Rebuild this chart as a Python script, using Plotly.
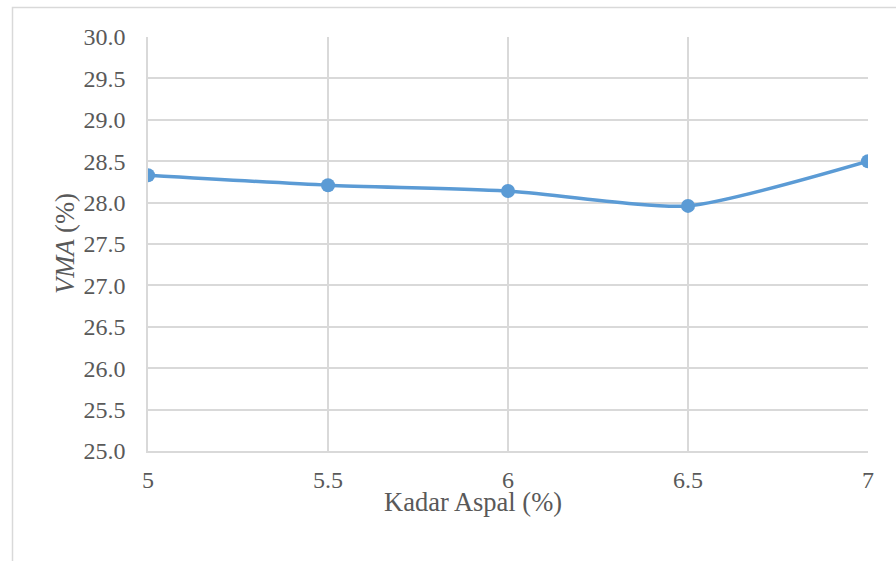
import plotly.graph_objects as go

# Asphalt content (%) and corresponding VMA (%)
kadar_aspal = [5, 5.5, 6, 6.5, 7]
vma = [28.33, 28.21, 28.14, 27.96, 28.50]

x_ticks = [5, 5.5, 6, 6.5, 7]
x_tick_text = ["5", "5.5", "6", "6.5", "7"]
y_ticks = [25.0, 25.5, 26.0, 26.5, 27.0, 27.5, 28.0, 28.5, 29.0, 29.5, 30.0]

W, H = 896, 561
L, R, T, B = 148, 868, 37, 451  # plot area in pixels

FONT = "Liberation Serif"
TXT = "#595959"
GRID = "#d9d9d9"
FS = 24
FS_TITLE = 26.5

fig = go.Figure()
fig.add_trace(go.Scatter(
    x=kadar_aspal, y=vma,
    mode="lines+markers",
    line=dict(color="#5b9bd5", width=3.5, shape="spline", smoothing=0.6),
    marker=dict(color="#5b9bd5", size=14),
    showlegend=False,
))

def px_to_paper_x(px):
    return (px - L) / (R - L)

def px_to_paper_y(py):
    return (B - py) / (B - T)

fig.update_layout(
    width=W, height=H,
    margin=dict(l=L, r=W - R, t=T, b=H - B),
    paper_bgcolor="white", plot_bgcolor="white",
    font=dict(family=FONT, size=FS, color=TXT),
    xaxis=dict(
        range=[5, 7], tickvals=x_ticks, ticktext=x_tick_text,
        showgrid=True, gridcolor=GRID, gridwidth=1.5,
        showline=True, linecolor=GRID, linewidth=1.5,
        zeroline=False, ticks="", ticklabelstandoff=6,
        tickfont=dict(family=FONT, size=FS, color=TXT),
    ),
    yaxis=dict(
        range=[25, 30], tickvals=y_ticks, tickformat=".1f",
        showgrid=True, gridcolor=GRID, gridwidth=1.5,
        showline=True, linecolor=GRID, linewidth=1.5,
        zeroline=False, ticks="", ticklabelstandoff=16,
        tickfont=dict(family=FONT, size=FS, color=TXT),
    ),
    shapes=[
        # chart area frame
        dict(type="rect", xref="paper", yref="paper",
             x0=px_to_paper_x(12.5), x1=px_to_paper_x(905),
             y0=px_to_paper_y(570), y1=px_to_paper_y(7.5),
             line=dict(color=GRID, width=1.5), fillcolor="rgba(0,0,0,0)",
             layer="below"),
    ],
    annotations=[
        dict(text="Kadar Aspal (%)", xref="paper", yref="paper",
             x=px_to_paper_x(473), y=px_to_paper_y(502),
             xanchor="center", yanchor="middle", showarrow=False,
             font=dict(family=FONT, size=FS_TITLE, color=TXT)),
        dict(text="<i>VMA</i> (%)", xref="paper", yref="paper",
             x=px_to_paper_x(65), y=px_to_paper_y(244),
             xanchor="center", yanchor="middle", showarrow=False,
             textangle=-90,
             font=dict(family=FONT, size=FS_TITLE, color=TXT)),
    ],
)

fig.write_html("out.html")
